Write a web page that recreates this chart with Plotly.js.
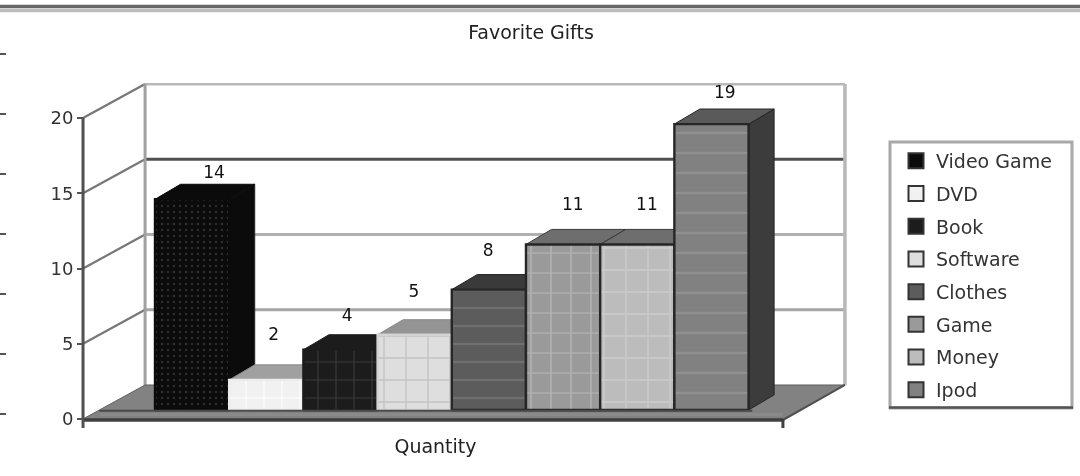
<!DOCTYPE html>
<html><head><meta charset="utf-8">
<script src="https://cdn.plot.ly/plotly-3.0.1.min.js"></script>
<style>html,body{margin:0;padding:0;background:#fff}#c{width:1080px;height:476px;filter:blur(.6px)}</style>
</head><body><div id="c"></div>
<script>
// ---- data ----
const categories = ["Video Game","DVD","Book","Software","Clothes","Game","Money","Ipod"];
const quantity   = [14,2,4,5,8,11,11,19];
const yTicks     = [0,5,10,15,20];
const chartTitle = "Favorite Gifts";
const xTitle     = "Quantity";

// ---- styles ----
const frontColors = ["#0b0b0b","#f1f1f1","#1c1c1c","#dedede","#5c5c5c","#9a9a9a","#bcbcbc","#818181"];
const patternFg   = ["#2e2e2e","#ffffff","#3a3a3a","#c4c4c4","#707070","#b8b8b8","#cccccc","#909090"];
const patternSize = [6,18,18,22,18,20,22,20];
const patternShape= [".","+","+","+","-","+","+","-"];
const topColors   = ["#0b0b0b","#a0a0a0","#1c1c1c","#949494","#3a3a3a","#6e6e6e","#6e6e6e","#5a5a5a"];
const sideColors  = ["#0b0b0b","#555555","#141414","#555555","#2b2b2b","#3a3a3a","#3a3a3a","#3c3c3c"];
const edgeColors  = ["#0b0b0b","#ececec","#1c1c1c","#d4d4d4","#262626","#262626","#262626","#262626"];
const topEdges    = ["#0b0b0b","#8a8a8a","#1c1c1c","#8a8a8a","#262626","#3a3a3a","#3a3a3a","#262626"];
const labelDx     = [.295,.10,.09,-.01,-.01,.13,.13,.18];
const labelLift   = [2.3,3.5,2.8,3.4,3.1,3.15,3.15,2.6];

// geometry of the oblique box, in axis units
const wallDx=.836, wallDy=2.26, barDx=.344, barDy=1, barBase=.6, half=.5;
const floorL=-1.47, floorR=7.963, stripL=-1.25;

const skip={showlegend:false,hoverinfo:"skip"};
const traces=[];
function line(x,y,color,width){traces.push({type:"scatter",mode:"lines",x,y,line:{color,width},...skip});}
function poly(x,y,fillcolor,lineColor,width,extra){
  traces.push({type:"scatter",mode:"lines",x:[...x,x[0]],y:[...y,y[0]],fill:"toself",fillcolor,
    line:{color:lineColor||fillcolor,width:width||0},...skip,...(extra||{})});
}

// back wall and side wall
const wallGrid={0:"#999999",5:"#a6a6a6",10:"#b0b0b0",15:"#505050",20:"#b8b8b8"};
yTicks.forEach(v=>{
  if(v>0){
    line([floorL+wallDx,floorR+wallDx],[v+wallDy,v+wallDy],wallGrid[v],3);
    line([floorL,floorL+wallDx],[v,v+wallDy],"#777777",2.2);
  }
});
line([floorL+wallDx,floorL+wallDx],[wallDy,20+wallDy],"#a0a0a0",3);
line([floorR+wallDx,floorR+wallDx],[wallDy,20+wallDy],"#b8b8b8",3.5);
// floor
poly([floorL,floorL+wallDx,floorR+wallDx,floorR],[0,wallDy,wallDy,0],"#828282","#5e5e5e",1);

// bars, painted left to right so each front covers the neighbour's side
categories.forEach((c,i)=>{
  const v=quantity[i], l=i-half, r=i+half, b=barBase, t=barBase+v;
  poly([r,r+barDx,r+barDx,r],[b,b+barDy,t+barDy,t],sideColors[i],"#262626",1);
  poly([l,l+barDx,r+barDx,r],[t,t+barDy,t+barDy,t],topColors[i],topEdges[i],1);
  poly([l,r,r,l],[b,b,t,t],frontColors[i],edgeColors[i],2.4,{
    fillpattern:{shape:patternShape[i],bgcolor:frontColors[i],fgcolor:patternFg[i],size:patternSize[i],solidity:.12}
  });
});
// floor front edge and axis lines
line([stripL,7.55],[barBase-.05,barBase-.05],"#4a4a4a",2);
line([stripL,floorR],[.3,.3],"#8a8a8a",3);
line([floorL,floorR],[-.07,-.07],"#404040",3.5);
line([floorR,floorR+wallDx],[-.07,wallDy],"#505050",2);
line([floorR,floorR],[-.6,0],"#404040",3);
line([floorL,floorL],[-.6,20],"#505050",3);

// data labels
traces.push({type:"scatter",mode:"text",
  x:quantity.map((v,i)=>i+labelDx[i]),
  y:quantity.map((v,i)=>v+labelLift[i]),
  text:quantity.map(String),textposition:"middle center",
  textfont:{family:"DejaVu Sans",size:17,color:"#111"},cliponaxis:false,...skip});

// legend entries
categories.forEach((c,i)=>{
  traces.push({type:"scatter",mode:"markers",x:[null],y:[null],name:c,legendgroup:c,
    marker:{symbol:"square",size:15,color:frontColors[i],line:{color:"#333",width:2}},hoverinfo:"skip"});
});

// page geometry
const W=1080,H=476,pl=21,pr=850,pt=83,pb=434;
const px=x=>(x-pl)/(pr-pl), py=y=>(pb-y)/(pb-pt);
const decoY=[54,114,174,234,294,354,414];
const shapes=[
  {type:"line",xref:"paper",yref:"paper",x0:px(0),x1:px(W),y0:py(6.5),y1:py(6.5),line:{color:"#666",width:3.5}},
  {type:"line",xref:"paper",yref:"paper",x0:px(0),x1:px(W),y0:py(10.5),y1:py(10.5),line:{color:"#bdbdbd",width:3.5}},
  {type:"rect",xref:"paper",yref:"paper",x0:px(890),x1:px(1072),y0:py(408),y1:py(142),fillcolor:"#fff",layer:"below",line:{color:"#a8a8a8",width:3}},
  {type:"line",xref:"paper",yref:"paper",x0:px(889),x1:px(1073),y0:py(407.5),y1:py(407.5),line:{color:"#555",width:2.5}},
  ...decoY.map(y=>({type:"line",xref:"paper",yref:"paper",x0:px(0),x1:px(6),y0:py(y),y1:py(y),line:{color:"#555",width:2}}))
];

Plotly.newPlot("c",traces,{
  width:W,height:H,paper_bgcolor:"#fff",plot_bgcolor:"#fff",showlegend:true,
  margin:{l:pl,r:W-pr,t:pt,b:H-pb,pad:0},
  title:{text:chartTitle,x:531/W,xanchor:"center",y:1-32/H,yanchor:"middle",font:{family:"DejaVu Sans",size:19,color:"#222"}},
  xaxis:{range:[-2.306,8.867],showgrid:false,zeroline:false,showline:false,showticklabels:false,ticks:"",
    title:{text:xTitle,standoff:5,font:{family:"DejaVu Sans",size:19,color:"#222"}},automargin:false},
  yaxis:{range:[-.997,22.33],anchor:"free",position:px(83),showgrid:false,zeroline:false,showline:false,
    tickmode:"array",tickvals:yTicks,ticktext:yTicks.map(String),ticks:"outside",ticklen:6,tickwidth:2,tickcolor:"#555",
    tickfont:{family:"DejaVu Sans",size:18,color:"#333"}},
  legend:{x:px(896),y:py(142),xanchor:"left",yanchor:"top",bgcolor:"rgba(0,0,0,0)",borderwidth:0,
    traceorder:"grouped",tracegroupgap:5,font:{family:"DejaVu Sans",size:19,color:"#333"},itemclick:false,itemdoubleclick:false},
  shapes
},{displayModeBar:false,staticPlot:true});
</script></body></html>
